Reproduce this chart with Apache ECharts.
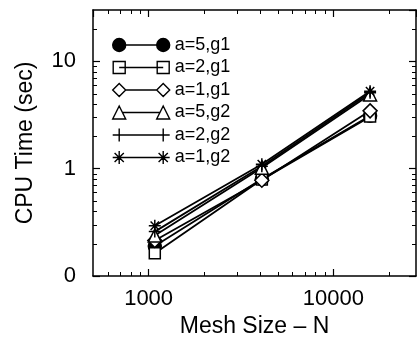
<!DOCTYPE html>
<html>
<head>
<meta charset="utf-8">
<script src="https://cdn.jsdelivr.net/npm/echarts@6/dist/echarts.min.js"></script>
<style>
  html, body { margin: 0; padding: 0; background: #fff; }
  #chart { width: 417px; height: 346px; }
</style>
</head>
<body>
<div id="chart"></div>
<script>
// mesh sizes (N) and CPU times (sec)
var meshSize = [1080, 4100, 15800];
var a5g1 = [0.19, 0.80, 3.10];
var a2g1 = [0.163, 0.79, 3.05];
var a1g1 = [0.214, 0.78, 3.45];
var a5g2 = [0.238, 1.02, 4.90];
var a2g2 = [0.259, 1.05, 5.10];
var a1g2 = [0.294, 1.10, 5.25];

var seriesNames = ['a=5,g1', 'a=2,g1', 'a=1,g1', 'a=5,g2', 'a=2,g2', 'a=1,g2'];

// minor tick values of the two log axes
var xMinorTicks = [600, 700, 800, 900, 2000, 3000, 4000, 5000, 6000, 7000, 8000, 9000, 20000];
var yMinorTicks = [0.2, 0.3, 0.4, 0.5, 0.6, 0.7, 0.8, 0.9, 2, 3, 4, 5, 6, 7, 8, 9, 20];

var FONT = 'Liberation Sans';

function pairs(ys) {
  return meshSize.map(function (x, i) { return [x, ys[i]]; });
}

// marker shapes
var plusPath = 'path://M0,6 H12 M6,0 V12';
var starPath = 'path://M0,6 H12 M6,0 V12 M1.8,1.8 L10.2,10.2 M1.8,10.2 L10.2,1.8';

// legend icons: symbol - line - symbol (57 x 13 box)
var legendIcons = [
  'path://M0,6.5 A6.5,6.5 0 1 1 13,6.5 A6.5,6.5 0 1 1 0,6.5 Z M13,6.5 L44,6.5 M44,6.5 A6.5,6.5 0 1 1 57,6.5 A6.5,6.5 0 1 1 44,6.5 Z',
  'path://M0.5,0.5 H12.5 V12.5 H0.5 Z M6.5,6.5 L50.5,6.5 M44.5,0.5 H56.5 V12.5 H44.5 Z M0,0 M57,13',
  'path://M0,6.5 L6.5,0 L13,6.5 L6.5,13 Z M13,6.5 L44,6.5 M44,6.5 L50.5,0 L57,6.5 L50.5,13 Z',
  'path://M0,13 L6.5,0 L13,13 Z M9.8,6.5 L47.2,6.5 M44,13 L50.5,0 L57,13 Z',
  'path://M0,6.5 H57 M6.5,0 V13 M50.5,0 V13',
  'path://M0,6.5 H57 M6.5,0 V13 M50.5,0 V13 M1.9,1.9 L11.1,11.1 M1.9,11.1 L11.1,1.9 M45.9,1.9 L55.1,11.1 M45.9,11.1 L55.1,1.9'
];
var legendFill = ['#000', '#fff', '#fff', '#fff', '#fff', '#fff'];

var chart = echarts.init(document.getElementById('chart'));

function lineSeries(name, ys, symbol, size, fill) {
  return {
    name: name,
    type: 'line',
    data: pairs(ys),
    symbol: symbol,
    symbolSize: size,
    showAllSymbol: true,
    lineStyle: { color: '#000', width: 1.8 },
    itemStyle: { color: fill, borderColor: '#000', borderWidth: 1.5 },
    emphasis: { disabled: true },
    z: 3
  };
}

var axisCommon = {
  type: 'log',
  logBase: 10,
  splitLine: { show: false },
  axisLine: { show: true, lineStyle: { color: '#000', width: 1.5 } },
  axisTick: { show: true, inside: true, length: 7, lineStyle: { color: '#000', width: 1.2 } }
};

chart.setOption({
  backgroundColor: '#fff',
  animation: false,
  textStyle: { fontFamily: FONT },
  grid: { left: 93, right: 1, top: 10, bottom: 70 },
  legend: {
    orient: 'vertical',
    left: 107,
    top: 31,
    itemWidth: 57,
    itemHeight: 13,
    itemGap: 4.5,
    symbolKeepAspect: false,
    selectedMode: false,
    textStyle: { fontFamily: FONT, fontSize: 18, color: '#000', padding: [0, 0, 0, 0] },
    data: seriesNames.map(function (n, i) {
      return {
        name: n,
        icon: legendIcons[i],
        itemStyle: { color: legendFill[i], borderColor: '#000', borderWidth: 1.4 }
      };
    })
  },
  xAxis: [
    Object.assign({}, axisCommon, {
      position: 'bottom',
      min: 500,
      max: 28000,
      name: 'Mesh Size \u2013 N',
      nameLocation: 'middle',
      nameGap: 38,
      nameTextStyle: { fontFamily: FONT, fontSize: 23, color: '#000' },
      axisLabel: {
        showMinLabel: false,
        showMaxLabel: false,
        margin: 12,
        fontFamily: FONT,
        fontSize: 22,
        color: '#000',
        formatter: function (v) { return String(Math.round(v)); }
      }
    }),
    Object.assign({}, axisCommon, {
      position: 'top',
      min: 500,
      max: 28000,
      axisLabel: { show: false }
    })
  ],
  yAxis: [
    Object.assign({}, axisCommon, {
      position: 'left',
      min: 0.1,
      max: 30,
      name: 'CPU Time (sec)',
      nameLocation: 'middle',
      nameGap: 56,
      nameTextStyle: { fontFamily: FONT, fontSize: 23, color: '#000' },
      axisLabel: {
        showMinLabel: true,
        showMaxLabel: false,
        margin: 17,
        fontFamily: FONT,
        fontSize: 22,
        color: '#000',
        formatter: function (v) { return v < 0.5 ? '0' : String(Math.round(v)); }
      }
    }),
    Object.assign({}, axisCommon, {
      position: 'right',
      min: 0.1,
      max: 30,
      axisLabel: { show: false }
    })
  ],
  series: [
    lineSeries(seriesNames[0], a5g1, 'circle', 13, '#000'),
    lineSeries(seriesNames[1], a2g1, 'rect', 11, '#fff'),
    lineSeries(seriesNames[2], a1g1, 'diamond', 14, '#fff'),
    lineSeries(seriesNames[3], a5g2, 'triangle', 13, '#fff'),
    lineSeries(seriesNames[4], a2g2, plusPath, 12, '#fff'),
    lineSeries(seriesNames[5], a1g2, starPath, 12, '#fff'),
    {
      // minor ticks on the x axes (bottom and top)
      type: 'custom',
      silent: true,
      z: 1,
      data: xMinorTicks.map(function (v) { return [v, 1]; }),
      renderItem: function (params, api) {
        var cs = params.coordSys;
        var x = Math.round(api.coord([api.value(0), 1])[0]) + 0.5;
        var st = { stroke: '#000', lineWidth: 1 };
        return { type: 'group', children: [
          { type: 'line', shape: { x1: x, y1: cs.y + cs.height, x2: x, y2: cs.y + cs.height - 4 }, style: st },
          { type: 'line', shape: { x1: x, y1: cs.y, x2: x, y2: cs.y + 4 }, style: st }
        ] };
      }
    },
    {
      // minor ticks on the y axes (left and right)
      type: 'custom',
      silent: true,
      z: 1,
      data: yMinorTicks.map(function (v) { return [1000, v]; }),
      renderItem: function (params, api) {
        var cs = params.coordSys;
        var y = Math.round(api.coord([1000, api.value(1)])[1]) + 0.5;
        var st = { stroke: '#000', lineWidth: 1 };
        return { type: 'group', children: [
          { type: 'line', shape: { x1: cs.x, y1: y, x2: cs.x + 4, y2: y }, style: st },
          { type: 'line', shape: { x1: cs.x + cs.width, y1: y, x2: cs.x + cs.width - 4, y2: y }, style: st }
        ] };
      }
    }
  ]
});
</script>
</body>
</html>
